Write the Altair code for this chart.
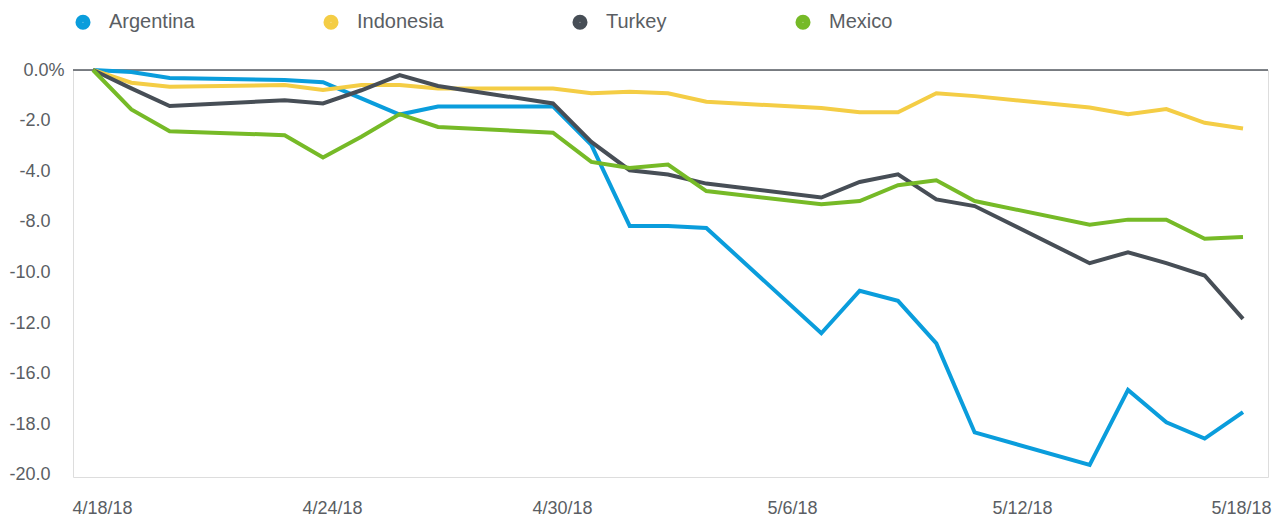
import altair as alt
import pandas as pd

# ---- data ----
DATES = ["2018-04-18", "2018-04-19", "2018-04-20", "2018-04-23", "2018-04-24",
         "2018-04-25", "2018-04-26", "2018-04-27", "2018-04-30", "2018-05-01",
         "2018-05-02", "2018-05-03", "2018-05-04", "2018-05-07", "2018-05-08",
         "2018-05-09", "2018-05-10", "2018-05-11", "2018-05-14", "2018-05-15",
         "2018-05-16", "2018-05-17", "2018-05-18"]

ARGENTINA = [0.0, -0.1, -0.4, -0.5, -0.6, -1.4, -2.2, -1.8, -1.8, -3.7,
             -7.7, -7.7, -7.8, -13.0, -10.9, -11.4, -13.5, -17.9, -19.5, -15.8,
             -17.4, -18.2, -16.9]
INDONESIA = [0.0, -0.63, -0.83, -0.74, -0.99, -0.74, -0.74, -0.91, -0.91, -1.15,
             -1.07, -1.15, -1.57, -1.88, -2.09, -2.09, -1.15, -1.29, -1.85, -2.18,
             -1.93, -2.61, -2.89]
TURKEY = [0.0, -0.91, -1.78, -1.49, -1.65, -1.0, -0.25, -0.79, -1.65, -3.55,
          -4.95, -5.16, -5.61, -6.30, -5.53, -5.15, -6.39, -6.72, -9.54, -9.00,
          -9.54, -10.15, -12.29]
MEXICO = [0.0, -1.95, -3.02, -3.22, -4.32, -3.3, -2.18, -2.81, -3.10, -4.54,
          -4.84, -4.67, -5.98, -6.63, -6.47, -5.69, -5.45, -6.47, -7.64, -7.39,
          -7.39, -8.33, -8.25]

SERIES = ["Argentina", "Indonesia", "Turkey", "Mexico"]
COLORS = ["#0a9ddc", "#f4cd45", "#474e56", "#76ba27"]

Y_TICKS = [0, -2.5, -5, -7.5, -10, -12.5, -15, -17.5, -20]
Y_TICK_LABELS = ["0.0%", "-2.0", "-4.0", "-8.0", "-10.0", "-12.0", "-16.0", "-18.0", "-20.0"]
X_TICKS = ["2018-04-18", "2018-04-24", "2018-04-30", "2018-05-06", "2018-05-12", "2018-05-18"]

FONT = "Liberation Sans"
TEXT_COLOR = "#5a5e63"

values = {"Argentina": ARGENTINA, "Indonesia": INDONESIA, "Turkey": TURKEY, "Mexico": MEXICO}
rows = []
for s in SERIES:
    for d, v in zip(DATES, values[s]):
        rows.append({"date": d, "series": s, "value": v})
df = pd.DataFrame(rows)


def dt(s, h=0, m=0):
    y, mo, d = (int(p) for p in s.split("-"))
    return alt.DateTime(year=y, month=mo, date=d, hours=h, minutes=m, utc=True)


ylabel_expr = "[" + ",".join("'%s'" % t for t in Y_TICK_LABELS) + "][round(-datum.value/2.5)]"
last_tick_ms = int(pd.Timestamp(X_TICKS[-1], tz="UTC").value // 10**6)

x_enc = alt.X(
    "date:T",
    scale=alt.Scale(type="utc", domain=[dt("2018-04-17", 11, 29), dt("2018-05-18", 15, 39)]),
    axis=alt.Axis(
        values=[dt(t) for t in X_TICKS], format="%-m/%-d/%y", title=None,
        domain=False, ticks=False, grid=False, labelFont=FONT, labelFontSize=18,
        labelColor=TEXT_COLOR, labelPadding=22, labelFlush=False, labelOverlap=False,
        labelOffset=alt.condition("datum.value >= %d" % last_tick_ms, alt.value(-2), alt.value(9)),
    ),
)
y_enc = alt.Y(
    "value:Q",
    scale=alt.Scale(domain=[-20.1, 0], nice=False, zero=False),
    axis=alt.Axis(
        values=Y_TICKS, labelExpr=ylabel_expr, title=None, domain=False, ticks=False,
        grid=False, labelFont=FONT, labelFontSize=18, labelColor=TEXT_COLOR,
        labelPadding=alt.condition("datum.value == 0", alt.value(9), alt.value(23)),
        labelBaseline="middle",
    ),
)

lines = alt.Chart(df).mark_line(strokeWidth=4, interpolate="linear").encode(
    x=x_enc,
    y=y_enc,
    color=alt.Color(
        "series:N",
        scale=alt.Scale(domain=SERIES, range=COLORS),
        legend=alt.Legend(
            title=None, orient="none", legendX=0, legendY=-58, direction="horizontal",
            columns=4, symbolType="circle", symbolSize=50, symbolStrokeWidth=8,
            labelFont=FONT, labelFontSize=20, labelColor=TEXT_COLOR, labelOffset=16,
            columnPadding=116,
        ),
    ),
    order=alt.Order("date:T"),
)

zero = alt.Chart(pd.DataFrame({"v": [0]})).mark_rule(color="#555a60", strokeWidth=1.5).encode(
    y=alt.Y("v:Q")
)

chart = alt.layer(zero, lines).properties(
    width=1195, height=407,
    autosize=alt.AutoSizeParams(type="none"),
    padding={"left": 65, "top": 62, "right": 4, "bottom": 45},
).configure_view(fill="#eeeeee", stroke=None).configure(background="white")

chart.save("out.html", embed_options={"renderer": "svg", "actions": False})
